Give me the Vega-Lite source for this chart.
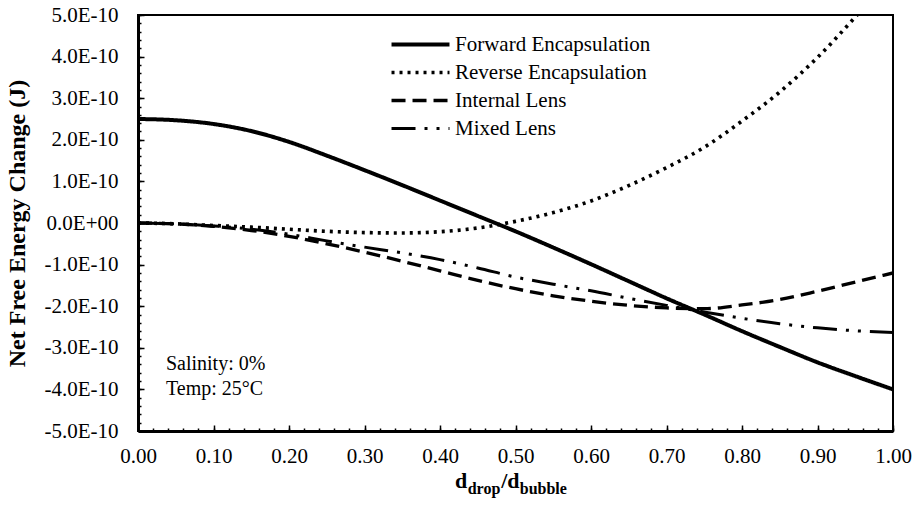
{
  "$schema": "https://vega.github.io/schema/vega-lite/v6.json",
  "width": 755,
  "height": 416,
  "autosize": {"type": "none"},
  "padding": {"left": 138, "top": 15, "right": 22, "bottom": 77},
  "background": "white",
  "config": {
    "font": "Liberation Serif",
    "view": {"stroke": "black", "strokeWidth": 2},
    "axis": {"grid": false, "domainColor": "black", "tickColor": "black", "labelColor": "black", "titleColor": "black", "labelFont": "Liberation Serif", "titleFont": "Liberation Serif"},
    "text": {"font": "Liberation Serif", "color": "black"}
  },
  "datasets": {
    "curves": [
      {"ratio": 0.00, "energy": 2.50e-10, "series": "Forward Encapsulation"},
      {"ratio": 0.05, "energy": 2.47e-10, "series": "Forward Encapsulation"},
      {"ratio": 0.10, "energy": 2.38e-10, "series": "Forward Encapsulation"},
      {"ratio": 0.15, "energy": 2.21e-10, "series": "Forward Encapsulation"},
      {"ratio": 0.20, "energy": 1.95e-10, "series": "Forward Encapsulation"},
      {"ratio": 0.25, "energy": 1.62e-10, "series": "Forward Encapsulation"},
      {"ratio": 0.30, "energy": 1.27e-10, "series": "Forward Encapsulation"},
      {"ratio": 0.35, "energy": 0.91e-10, "series": "Forward Encapsulation"},
      {"ratio": 0.40, "energy": 0.54e-10, "series": "Forward Encapsulation"},
      {"ratio": 0.45, "energy": 0.17e-10, "series": "Forward Encapsulation"},
      {"ratio": 0.50, "energy": -0.20e-10, "series": "Forward Encapsulation"},
      {"ratio": 0.55, "energy": -0.59e-10, "series": "Forward Encapsulation"},
      {"ratio": 0.60, "energy": -0.99e-10, "series": "Forward Encapsulation"},
      {"ratio": 0.65, "energy": -1.40e-10, "series": "Forward Encapsulation"},
      {"ratio": 0.70, "energy": -1.81e-10, "series": "Forward Encapsulation"},
      {"ratio": 0.75, "energy": -2.20e-10, "series": "Forward Encapsulation"},
      {"ratio": 0.80, "energy": -2.60e-10, "series": "Forward Encapsulation"},
      {"ratio": 0.85, "energy": -2.98e-10, "series": "Forward Encapsulation"},
      {"ratio": 0.90, "energy": -3.35e-10, "series": "Forward Encapsulation"},
      {"ratio": 0.95, "energy": -3.68e-10, "series": "Forward Encapsulation"},
      {"ratio": 1.00, "energy": -4.00e-10, "series": "Forward Encapsulation"},
      {"ratio": 0.00, "energy": 0.00, "series": "Reverse Encapsulation"},
      {"ratio": 0.05, "energy": -0.02e-10, "series": "Reverse Encapsulation"},
      {"ratio": 0.10, "energy": -0.06e-10, "series": "Reverse Encapsulation"},
      {"ratio": 0.15, "energy": -0.10e-10, "series": "Reverse Encapsulation"},
      {"ratio": 0.20, "energy": -0.15e-10, "series": "Reverse Encapsulation"},
      {"ratio": 0.25, "energy": -0.20e-10, "series": "Reverse Encapsulation"},
      {"ratio": 0.30, "energy": -0.23e-10, "series": "Reverse Encapsulation"},
      {"ratio": 0.35, "energy": -0.24e-10, "series": "Reverse Encapsulation"},
      {"ratio": 0.40, "energy": -0.21e-10, "series": "Reverse Encapsulation"},
      {"ratio": 0.45, "energy": -0.12e-10, "series": "Reverse Encapsulation"},
      {"ratio": 0.50, "energy": 0.04e-10, "series": "Reverse Encapsulation"},
      {"ratio": 0.55, "energy": 0.25e-10, "series": "Reverse Encapsulation"},
      {"ratio": 0.60, "energy": 0.53e-10, "series": "Reverse Encapsulation"},
      {"ratio": 0.65, "energy": 0.90e-10, "series": "Reverse Encapsulation"},
      {"ratio": 0.70, "energy": 1.33e-10, "series": "Reverse Encapsulation"},
      {"ratio": 0.75, "energy": 1.82e-10, "series": "Reverse Encapsulation"},
      {"ratio": 0.80, "energy": 2.45e-10, "series": "Reverse Encapsulation"},
      {"ratio": 0.85, "energy": 3.15e-10, "series": "Reverse Encapsulation"},
      {"ratio": 0.90, "energy": 3.98e-10, "series": "Reverse Encapsulation"},
      {"ratio": 0.95, "energy": 4.95e-10, "series": "Reverse Encapsulation"},
      {"ratio": 0.96, "energy": 5.15e-10, "series": "Reverse Encapsulation"},
      {"ratio": 0.00, "energy": 0.00, "series": "Internal Lens"},
      {"ratio": 0.05, "energy": -0.02e-10, "series": "Internal Lens"},
      {"ratio": 0.10, "energy": -0.08e-10, "series": "Internal Lens"},
      {"ratio": 0.15, "energy": -0.18e-10, "series": "Internal Lens"},
      {"ratio": 0.20, "energy": -0.32e-10, "series": "Internal Lens"},
      {"ratio": 0.25, "energy": -0.50e-10, "series": "Internal Lens"},
      {"ratio": 0.30, "energy": -0.70e-10, "series": "Internal Lens"},
      {"ratio": 0.35, "energy": -0.92e-10, "series": "Internal Lens"},
      {"ratio": 0.40, "energy": -1.15e-10, "series": "Internal Lens"},
      {"ratio": 0.45, "energy": -1.38e-10, "series": "Internal Lens"},
      {"ratio": 0.50, "energy": -1.58e-10, "series": "Internal Lens"},
      {"ratio": 0.55, "energy": -1.75e-10, "series": "Internal Lens"},
      {"ratio": 0.60, "energy": -1.88e-10, "series": "Internal Lens"},
      {"ratio": 0.65, "energy": -1.98e-10, "series": "Internal Lens"},
      {"ratio": 0.70, "energy": -2.04e-10, "series": "Internal Lens"},
      {"ratio": 0.75, "energy": -2.06e-10, "series": "Internal Lens"},
      {"ratio": 0.80, "energy": -1.97e-10, "series": "Internal Lens"},
      {"ratio": 0.85, "energy": -1.84e-10, "series": "Internal Lens"},
      {"ratio": 0.90, "energy": -1.64e-10, "series": "Internal Lens"},
      {"ratio": 0.95, "energy": -1.42e-10, "series": "Internal Lens"},
      {"ratio": 1.00, "energy": -1.20e-10, "series": "Internal Lens"},
      {"ratio": 0.00, "energy": 0.00, "series": "Mixed Lens"},
      {"ratio": 0.05, "energy": -0.02e-10, "series": "Mixed Lens"},
      {"ratio": 0.10, "energy": -0.07e-10, "series": "Mixed Lens"},
      {"ratio": 0.15, "energy": -0.15e-10, "series": "Mixed Lens"},
      {"ratio": 0.20, "energy": -0.27e-10, "series": "Mixed Lens"},
      {"ratio": 0.25, "energy": -0.43e-10, "series": "Mixed Lens"},
      {"ratio": 0.30, "energy": -0.58e-10, "series": "Mixed Lens"},
      {"ratio": 0.35, "energy": -0.72e-10, "series": "Mixed Lens"},
      {"ratio": 0.40, "energy": -0.88e-10, "series": "Mixed Lens"},
      {"ratio": 0.45, "energy": -1.08e-10, "series": "Mixed Lens"},
      {"ratio": 0.50, "energy": -1.30e-10, "series": "Mixed Lens"},
      {"ratio": 0.55, "energy": -1.47e-10, "series": "Mixed Lens"},
      {"ratio": 0.60, "energy": -1.63e-10, "series": "Mixed Lens"},
      {"ratio": 0.65, "energy": -1.81e-10, "series": "Mixed Lens"},
      {"ratio": 0.70, "energy": -1.98e-10, "series": "Mixed Lens"},
      {"ratio": 0.75, "energy": -2.14e-10, "series": "Mixed Lens"},
      {"ratio": 0.80, "energy": -2.29e-10, "series": "Mixed Lens"},
      {"ratio": 0.85, "energy": -2.42e-10, "series": "Mixed Lens"},
      {"ratio": 0.90, "energy": -2.52e-10, "series": "Mixed Lens"},
      {"ratio": 0.95, "energy": -2.59e-10, "series": "Mixed Lens"},
      {"ratio": 1.00, "energy": -2.63e-10, "series": "Mixed Lens"}
    ]
  },
  "resolve": {"axis": {"x": "independent", "y": "independent"}},
  "layer": [
    {
      "data": {"name": "curves"},
      "mark": {"type": "line", "clip": true, "interpolate": "monotone", "color": "black"},
      "encoding": {
        "x": {
          "field": "ratio", "type": "quantitative",
          "scale": {"domain": [0, 1], "nice": false, "zero": false},
          "axis": {"orient": "bottom", "title": null, "values": [0, 0.1, 0.2, 0.3, 0.4, 0.5, 0.6, 0.7, 0.8, 0.9, 1.0], "format": ".2f", "tickSize": -6, "tickWidth": 1.5, "domainWidth": 3, "labelFontSize": 21, "labelPadding": 20, "labelFlush": false, "labelOverlap": false}
        },
        "y": {
          "field": "energy", "type": "quantitative",
          "scale": {"domain": [-5e-10, 5e-10], "nice": false, "zero": false},
          "axis": {"orient": "left", "title": "Net Free Energy Change (J)", "titleFontSize": 24, "titleFontWeight": "bold", "titleX": -121, "titleY": 208, "titleBaseline": "middle", "titleAngle": -90, "titleAlign": "center", "values": [-5e-10, -4e-10, -3e-10, -2e-10, -1e-10, 0, 1e-10, 2e-10, 3e-10, 4e-10, 5e-10], "labelExpr": "abs(datum.value) < 1e-12 ? '0.0E+00' : (datum.value < 0 ? '-' : '') + format(abs(datum.value) * 1e10, '.1f') + 'E-10'", "tickSize": -6, "tickWidth": 1.5, "domainWidth": 3, "labelFontSize": 21, "labelPadding": 26, "labelFlush": false, "labelOverlap": false}
        },
        "strokeDash": {
          "field": "series", "type": "nominal",
          "scale": {"domain": ["Forward Encapsulation", "Reverse Encapsulation", "Internal Lens", "Mixed Lens"], "range": [[1, 0], [3, 5], [14, 7], [24, 9, 3, 9, 3, 9]]},
          "legend": {"orient": "none", "legendX": 272, "legendY": 19, "title": null, "symbolType": "M-4,0H4", "symbolSize": 210, "symbolStrokeColor": "black", "labelFontSize": 21, "labelFont": "Liberation Serif", "labelColor": "black", "labelOffset": 24, "rowPadding": 6, "labelLimit": 400}
        },
        "strokeWidth": {
          "field": "series", "type": "nominal",
          "scale": {"domain": ["Forward Encapsulation", "Reverse Encapsulation", "Internal Lens", "Mixed Lens"], "range": [4, 3, 3, 3]}
        }
      }
    },
    {
      "data": {"values": [{"note": "annotation"}]},
      "mark": {"type": "text", "align": "left", "baseline": "alphabetic", "fontSize": 20, "lineHeight": 25, "clip": false, "text": ["Salinity: 0%", "Temp: 25°C"]},
      "encoding": {
        "x": {
          "datum": 0.037, "type": "quantitative",
          "scale": {"domain": [0, 1], "nice": false, "zero": false},
          "axis": {"orient": "bottom", "title": null, "labels": false, "domain": false, "tickSize": -3, "tickWidth": 1.5, "values": [0, 0.02, 0.04, 0.06, 0.08, 0.1, 0.12, 0.14, 0.16, 0.18, 0.2, 0.22, 0.24, 0.26, 0.28, 0.3, 0.32, 0.34, 0.36, 0.38, 0.4, 0.42, 0.44, 0.46, 0.48, 0.5, 0.52, 0.54, 0.56, 0.58, 0.6, 0.62, 0.64, 0.66, 0.68, 0.7, 0.72, 0.74, 0.76, 0.78, 0.8, 0.82, 0.84, 0.86, 0.88, 0.9, 0.92, 0.94, 0.96, 0.98, 1.0]}
        },
        "y": {
          "datum": -3.53e-10, "type": "quantitative",
          "scale": {"domain": [-5e-10, 5e-10], "nice": false, "zero": false},
          "axis": {"orient": "left", "title": null, "labels": false, "domain": false, "tickSize": -3, "tickWidth": 1.5, "values": [-5e-10, -4.8e-10, -4.6e-10, -4.4e-10, -4.2e-10, -4e-10, -3.8e-10, -3.6e-10, -3.4e-10, -3.2e-10, -3e-10, -2.8e-10, -2.6e-10, -2.4e-10, -2.2e-10, -2e-10, -1.8e-10, -1.6e-10, -1.4e-10, -1.2e-10, -1e-10, -0.8e-10, -0.6e-10, -0.4e-10, -0.2e-10, 0, 0.2e-10, 0.4e-10, 0.6e-10, 0.8e-10, 1e-10, 1.2e-10, 1.4e-10, 1.6e-10, 1.8e-10, 2e-10, 2.2e-10, 2.4e-10, 2.6e-10, 2.8e-10, 3e-10, 3.2e-10, 3.4e-10, 3.6e-10, 3.8e-10, 4e-10, 4.2e-10, 4.4e-10, 4.6e-10, 4.8e-10, 5e-10]}
        }
      }
    },
    {
      "data": {"values": [{"piece": "d"}]},
      "mark": {"type": "text", "align": "left", "baseline": "alphabetic", "fontSize": 22, "fontWeight": "bold", "clip": false, "text": "d"},
      "encoding": {
        "x": {"datum": 0.4199, "type": "quantitative", "scale": {"domain": [0, 1]}, "axis": null},
        "y": {"datum": -6.37e-10, "type": "quantitative", "scale": {"domain": [-5e-10, 5e-10]}, "axis": null}
      }
    },
    {
      "data": {"values": [{"piece": "drop"}]},
      "mark": {"type": "text", "align": "left", "baseline": "alphabetic", "fontSize": 16, "fontWeight": "bold", "clip": false, "text": "drop"},
      "encoding": {
        "x": {"datum": 0.4367, "type": "quantitative", "scale": {"domain": [0, 1]}, "axis": null},
        "y": {"datum": -6.52e-10, "type": "quantitative", "scale": {"domain": [-5e-10, 5e-10]}, "axis": null}
      }
    },
    {
      "data": {"values": [{"piece": "/d"}]},
      "mark": {"type": "text", "align": "left", "baseline": "alphabetic", "fontSize": 22, "fontWeight": "bold", "clip": false, "text": "/d"},
      "encoding": {
        "x": {"datum": 0.4811, "type": "quantitative", "scale": {"domain": [0, 1]}, "axis": null},
        "y": {"datum": -6.37e-10, "type": "quantitative", "scale": {"domain": [-5e-10, 5e-10]}, "axis": null}
      }
    },
    {
      "data": {"values": [{"piece": "bubble"}]},
      "mark": {"type": "text", "align": "left", "baseline": "alphabetic", "fontSize": 16, "fontWeight": "bold", "clip": false, "text": "bubble"},
      "encoding": {
        "x": {"datum": 0.5056, "type": "quantitative", "scale": {"domain": [0, 1]}, "axis": null},
        "y": {"datum": -6.52e-10, "type": "quantitative", "scale": {"domain": [-5e-10, 5e-10]}, "axis": null}
      }
    }
  ]
}
